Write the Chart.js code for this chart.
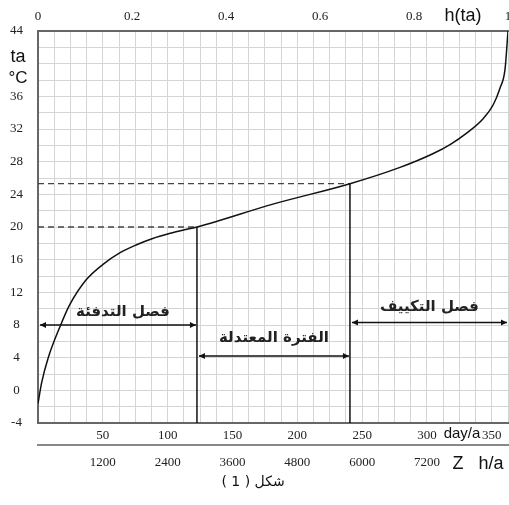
<!DOCTYPE html>
<html>
<head>
<meta charset="utf-8">
<script src="https://cdn.jsdelivr.net/npm/chart.js@4.4.0/dist/chart.umd.min.js"></script>
<style>
  html, body { margin: 0; padding: 0; background: #fff; }
  #wrap { width: 509px; height: 505px; }
</style>
</head>
<body>
<div id="wrap"><canvas id="hoursChart" width="509" height="505"></canvas></div>
<script>
// cumulative curve: days per year with temperature below ta
var days  = [0, 2.9, 7.9, 17.5, 24.2, 37.0, 49.9, 62.7, 75.6, 88.5, 101.3, 114.1, 122.6, 181.2, 240.6, 279.2, 304.9, 317.8, 330.6, 343.5, 351.2, 356.3, 360.2, 362.5];
var temps = [-1.6, 1.0, 4.0, 8.0, 10.4, 13.5, 15.4, 16.8, 17.8, 18.6, 19.2, 19.7, 20.0, 22.8, 25.3, 27.3, 29.0, 30.1, 31.5, 33.3, 35.0, 37.0, 39.3, 44.0];

// season limits
var heatingEnd = 122.6;
var coolingStart = 240.6;
var lowTemp = 20;
var highTemp = 25.3;

var seasonNames = ['فصل التدفئة', 'الفترة المعتدلة', 'فصل التكييف'];
var seasonFrom  = [0, heatingEnd, coolingStart];
var seasonTo    = [heatingEnd, coolingStart, 362.5];
var arrowTemps  = [8, 4.2, 8.3];

// tick labels
var dayLabels  = [50, 100, 150, 200, 250, 300, 350];
var hourLabels = [1200, 2400, 3600, 4800, 6000, 7200];
var hLabels    = [0, 0.2, 0.4, 0.6, 0.8, 1];
var tempLabels = [-4, 0, 4, 8, 12, 16, 20, 24, 28, 32, 36, 44];

var serif = { family: 'Liberation Serif', size: 13 };

function pts(xs, ys) {
    return xs.map(function(v, i) { return { x: v, y: ys[i] }; });
}

function pick(list, v) {
    for (var i = 0; i < list.length; i++) {
        if (Math.abs(list[i] - v) < 1e-6) return String(list[i]);
    }
    return '';
}

function drawArrow(c, x1, x2, y) {
    c.beginPath();
    c.moveTo(x1, y);
    c.lineTo(x2, y);
    c.stroke();
    [[x1, 1], [x2, -1]].forEach(function(e) {
        c.beginPath();
        c.moveTo(e[0], y);
        c.lineTo(e[0] + e[1] * 6, y - 3);
        c.lineTo(e[0] + e[1] * 6, y + 3);
        c.closePath();
        c.fill();
    });
}

var annotate = {
    id: 'annotate',
    afterDraw: function(chart) {
        var c = chart.ctx, sx = chart.scales.x, sy = chart.scales.y;
        var dy = [-13, -18, -15];
        c.save();
        c.strokeStyle = '#111';
        c.fillStyle = '#111';
        c.lineWidth = 1.5;
        for (var i = 0; i < seasonNames.length; i++) {
            var a = sx.getPixelForValue(seasonFrom[i]) + 2;
            var b = sx.getPixelForValue(seasonTo[i]) - 1;
            var y = sy.getPixelForValue(arrowTemps[i]);
            drawArrow(c, a, b, y);
            c.font = 'bold 15px "DejaVu Sans"';
            c.textAlign = 'center';
            c.textBaseline = 'middle';
            c.direction = 'rtl';
            c.fillStyle = '#222';
            c.fillText(seasonNames[i], (a + b) / 2 + (i === 0 ? 5 : 0), y + dy[i]);
            c.fillStyle = '#111';
        }
        c.direction = 'ltr';
        c.textAlign = 'center';
        c.textBaseline = 'middle';
        c.fillStyle = '#111';
        c.font = '18px "Liberation Sans"';
        c.fillText('ta', 18, 57);
        c.font = '17px "Liberation Sans"';
        c.fillText('°C', 18, 78);
        c.font = '18px "Liberation Sans"';
        c.fillText('h(ta)', 463, 16);
        c.font = '15px "Liberation Sans"';
        c.fillText('day/a', 462, 434);
        c.font = '18px "Liberation Sans"';
        c.fillText('Z', 458, 464);
        c.fillText('h/a', 491, 464);
        c.font = '14px "DejaVu Sans"';
        c.direction = 'rtl';
        c.fillText('شكل ( 1 )', 253, 482);
        c.restore();
    }
};

var ctx = document.getElementById('hoursChart').getContext('2d');
var hoursChart = new Chart(ctx, {
    type: 'scatter',
    data: {
        datasets: [
            {
                data: pts(days, temps),
                showLine: true,
                borderColor: '#111',
                borderWidth: 1.5,
                pointRadius: 0,
                cubicInterpolationMode: 'monotone'
            },
            {
                data: pts([0, heatingEnd], [lowTemp, lowTemp]),
                showLine: true, borderColor: '#444', borderWidth: 1.3,
                borderDash: [6, 4], pointRadius: 0
            },
            {
                data: pts([0, coolingStart], [highTemp, highTemp]),
                showLine: true, borderColor: '#444', borderWidth: 1.3,
                borderDash: [6, 4], pointRadius: 0
            },
            {
                data: pts([heatingEnd, heatingEnd], [-4, lowTemp]),
                showLine: true, borderColor: '#111', borderWidth: 1.5, pointRadius: 0
            },
            {
                data: pts([coolingStart, coolingStart], [-4, highTemp]),
                showLine: true, borderColor: '#111', borderWidth: 1.5, pointRadius: 0
            }
        ]
    },
    options: {
        responsive: false,
        animation: false,
        layout: { padding: { left: 0, right: 1, top: 0, bottom: 33 } },
        plugins: { legend: { display: false }, tooltip: { enabled: false } },
        scales: {
            x: {
                type: 'linear', position: 'bottom', min: 0, max: 362.5,
                ticks: {
                    stepSize: 12.5, autoSkip: false, maxRotation: 0, padding: 5,
                    font: serif, color: '#222',
                    callback: function(v) { return pick(dayLabels, v); }
                },
                grid: { color: '#d4d4d4', drawTicks: false },
                border: { color: '#666', width: 2 },
                afterFit: function(s) { s.height = 22; s.paddingLeft = 0; s.paddingRight = 0; }
            },
            xh: {
                type: 'linear', position: 'bottom', min: 0, max: 8700,
                ticks: {
                    stepSize: 300, autoSkip: false, maxRotation: 0, padding: 10,
                    font: serif, color: '#222',
                    callback: function(v) { return pick(hourLabels, v); }
                },
                grid: { display: false, drawTicks: false },
                border: { color: '#888', width: 2 },
                afterFit: function(s) { s.height = 27; s.paddingLeft = 0; s.paddingRight = 0; }
            },
            xTop: {
                type: 'linear', position: 'top', min: 0, max: 1,
                ticks: {
                    stepSize: 0.2, autoSkip: false, maxRotation: 0, padding: 7,
                    font: serif, color: '#222',
                    callback: function(v) { return pick(hLabels, v); }
                },
                grid: { display: false, drawTicks: false },
                border: { color: '#666', width: 2 },
                afterFit: function(s) { s.height = 31; s.paddingLeft = 0; s.paddingRight = 0; }
            },
            y: {
                min: -4, max: 44,
                ticks: {
                    stepSize: 2, autoSkip: false, padding: 15, crossAlign: 'center',
                    font: serif, color: '#222',
                    callback: function(v) { return pick(tempLabels, v); }
                },
                grid: { color: '#d4d4d4', drawTicks: false },
                border: { color: '#666', width: 2 },
                afterFit: function(s) { s.width = 38; }
            }
        }
    },
    plugins: [annotate]
});
</script>
</body>
</html>
